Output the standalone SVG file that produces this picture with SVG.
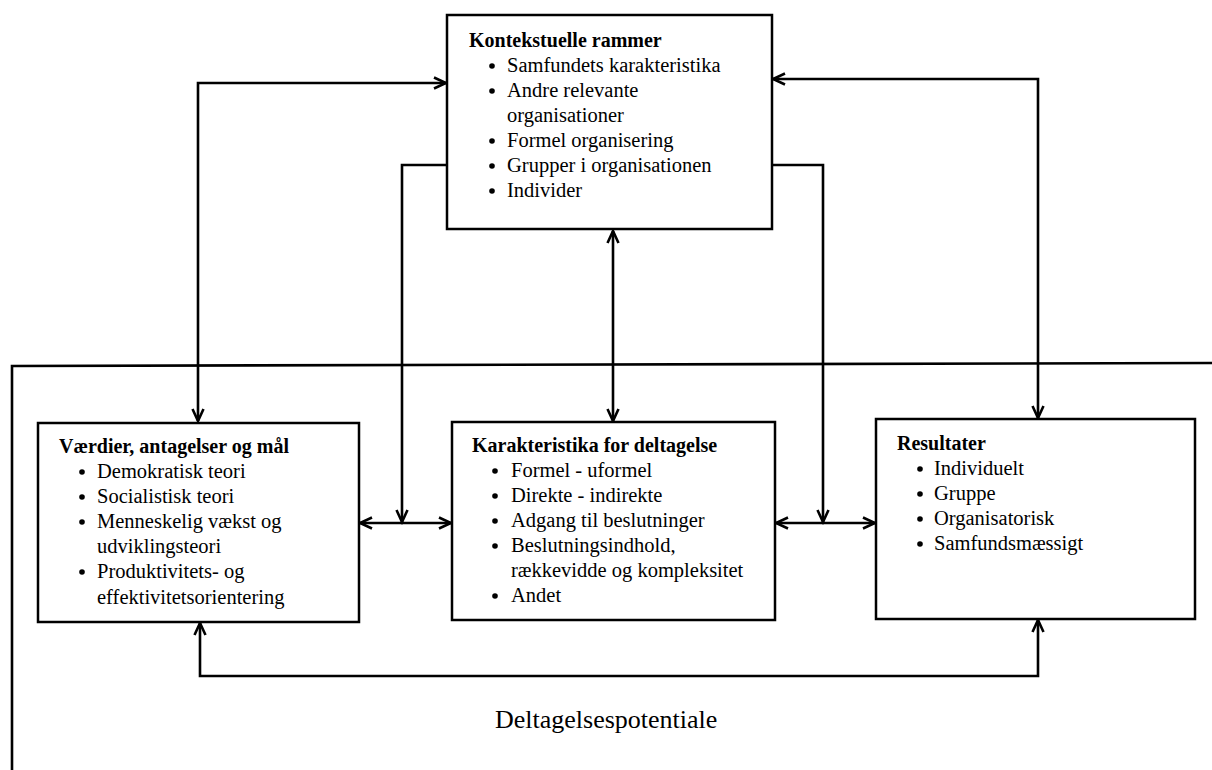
<svg xmlns="http://www.w3.org/2000/svg" width="1212" height="770" viewBox="0 0 1212 770">
<style>
.box{fill:#fff;stroke:#000;stroke-width:2.5}
.t{font-family:"Liberation Serif","Times New Roman",serif;font-size:20.5px;fill:#000}
.b{font-weight:bold;font-size:20px}
.ln{fill:none;stroke:#000;stroke-width:2.6}
.dot{fill:#000}
</style>
<defs>
<marker id="ah" markerUnits="userSpaceOnUse" markerWidth="16" markerHeight="16" refX="13" refY="7" orient="auto-start-reverse" viewBox="0 0 16 14">
<path d="M1,1.5 L13,7 L1,12.5" fill="none" stroke="#000" stroke-width="2.6" stroke-linejoin="miter"/>
</marker>
</defs>
<rect width="1212" height="770" fill="#fff"/>
<g id="frame">
<path class="ln" d="M12,770 L12,366 L1212,363"/>
</g>
<g id="connectors">
<path class="ln" d="M198,421 L198,83 L446,83" marker-start="url(#ah)" marker-end="url(#ah)"/>
<path class="ln" d="M773,79 L1038,79 L1038,418" marker-start="url(#ah)" marker-end="url(#ah)"/>
<path class="ln" d="M447,165 L402,165 L402,522" marker-end="url(#ah)"/>
<path class="ln" d="M360,523 L451,523" marker-start="url(#ah)" marker-end="url(#ah)"/>
<path class="ln" d="M772,165 L823,165 L823,522" marker-end="url(#ah)"/>
<path class="ln" d="M776,523 L875,523" marker-start="url(#ah)" marker-end="url(#ah)"/>
<path class="ln" d="M613,231 L613,421" marker-start="url(#ah)" marker-end="url(#ah)"/>
<path class="ln" d="M200,623 L200,676 L1038,676 L1038,620" marker-start="url(#ah)" marker-end="url(#ah)"/>
</g>
<g id="kontekstuelle">
<rect class="box" x="447" y="15" width="325" height="214"/>
<text class="t b" x="469" y="47">Kontekstuelle rammer</text>
<circle class="dot" cx="492" cy="66" r="2.8"/>
<text class="t" x="507" y="72">Samfundets karakteristika</text>
<circle class="dot" cx="492" cy="91" r="2.8"/>
<text class="t" x="507" y="97">Andre relevante</text>
<text class="t" x="507" y="122">organisationer</text>
<circle class="dot" cx="492" cy="141" r="2.8"/>
<text class="t" x="507" y="147">Formel organisering</text>
<circle class="dot" cx="492" cy="166" r="2.8"/>
<text class="t" x="507" y="172">Grupper i organisationen</text>
<circle class="dot" cx="492" cy="191" r="2.8"/>
<text class="t" x="507" y="197">Individer</text>
</g>
<g id="vaerdier">
<rect class="box" x="38" y="423" width="321" height="199"/>
<text class="t b" x="59" y="453">Værdier, antagelser og mål</text>
<circle class="dot" cx="82" cy="472" r="2.8"/>
<text class="t" x="97" y="478">Demokratisk teori</text>
<circle class="dot" cx="82" cy="497" r="2.8"/>
<text class="t" x="97" y="503">Socialistisk teori</text>
<circle class="dot" cx="82" cy="522" r="2.8"/>
<text class="t" x="97" y="528">Menneskelig vækst og</text>
<text class="t" x="97" y="553">udviklingsteori</text>
<circle class="dot" cx="82" cy="572" r="2.8"/>
<text class="t" x="97" y="578">Produktivitets- og</text>
<text class="t" x="97" y="604">effektivitetsorientering</text>
</g>
<g id="karakteristika">
<rect class="box" x="452" y="422" width="323" height="198"/>
<text class="t b" x="472" y="452">Karakteristika for deltagelse</text>
<circle class="dot" cx="495" cy="471" r="2.8"/>
<text class="t" x="511" y="477">Formel - uformel</text>
<circle class="dot" cx="495" cy="496" r="2.8"/>
<text class="t" x="511" y="502">Direkte - indirekte</text>
<circle class="dot" cx="495" cy="521" r="2.8"/>
<text class="t" x="511" y="527">Adgang til beslutninger</text>
<circle class="dot" cx="495" cy="546" r="2.8"/>
<text class="t" x="511" y="552">Beslutningsindhold,</text>
<text class="t" x="511" y="577">rækkevidde og kompleksitet</text>
<circle class="dot" cx="495" cy="596" r="2.8"/>
<text class="t" x="511" y="602">Andet</text>
</g>
<g id="resultater">
<rect class="box" x="876" y="419" width="319" height="200"/>
<text class="t b" x="897" y="450">Resultater</text>
<circle class="dot" cx="920" cy="469" r="2.8"/>
<text class="t" x="934" y="475">Individuelt</text>
<circle class="dot" cx="920" cy="494" r="2.8"/>
<text class="t" x="934" y="500">Gruppe</text>
<circle class="dot" cx="920" cy="519" r="2.8"/>
<text class="t" x="934" y="525">Organisatorisk</text>
<circle class="dot" cx="920" cy="544" r="2.8"/>
<text class="t" x="934" y="550">Samfundsmæssigt</text>
</g>
<g id="potentiale">
<text class="t" x="495" y="728" style="font-size:26px">Deltagelsespotentiale</text>
</g>
</svg>
